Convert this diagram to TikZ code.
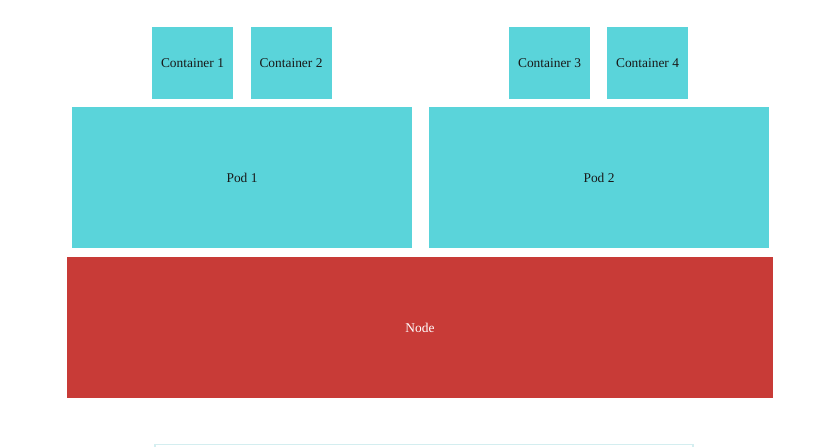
\documentclass[tikz,border=0pt]{standalone}
\usepackage{fontspec}
\setmainfont{Liberation Serif}
\definecolor{podcyan}{HTML}{5AD4DA}
\definecolor{nodered}{HTML}{C83B37}
\definecolor{faintcyan}{HTML}{D4EEF0}
\begin{document}
\begin{tikzpicture}[x=1pt,y=-1pt,
    box/.style={fill=podcyan,inner sep=0pt,outer sep=0pt,font=\fontsize{13.4}{16}\selectfont,text=black!90},
    cont/.style={box,minimum width=81pt,minimum height=72pt},
    pod/.style={box,minimum width=340pt,minimum height=141pt}]
        \useasboundingbox[fill=white](0,0)rectangle(824,447);
        \node[cont](c1) at (192.5,63){Container 1};
        \node[cont](c2) at (291,63){Container 2};
        \node[cont](c3) at (549.5,63){Container 3};
        \node[cont](c4) at (647.5,63){Container 4};
        \node[pod](p1) at (242,177.5){Pod 1};
        \node[pod](p2) at (599,177.5){Pod 2};
        \node[box,fill=nodered,text=white,minimum width=706pt,minimum height=141pt](n) at (420,327.5){Node};
        \draw[faintcyan,line width=1.2pt](155,447)--(155,444.5)--(693,444.5)--(693,447);
    \end{tikzpicture}
\end{document}
